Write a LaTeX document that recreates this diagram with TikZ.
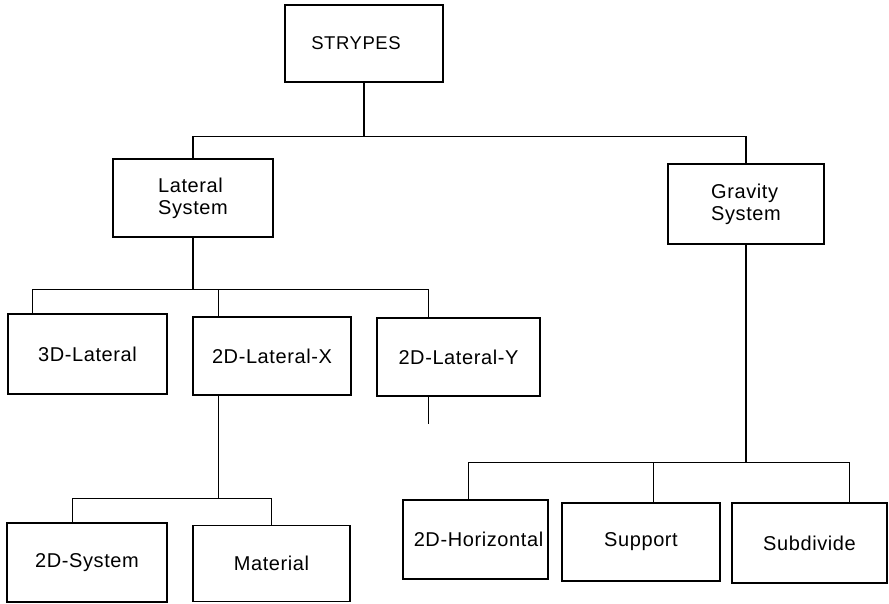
\documentclass[tikz,border=0pt]{standalone}
\usepackage{fontspec}
\setmainfont{Liberation Sans}[LetterSpace=3]
\usetikzlibrary{calc}
\begin{document}
\begin{tikzpicture}[x=1pt,y=-1pt,
  box/.style={draw, line width=1.2pt, rectangle, inner sep=0pt,
    font=\fontsize{20}{22}\selectfont, align=left},
  link/.style={line width=1.2pt}]
\useasboundingbox (0,0) rectangle (889,603);

\node[box, minimum width=158pt, minimum height=77pt, font=\fontsize{18.5}{22}\selectfont] (strypes) at (364,43.5) {\hspace*{-16pt}STRYPES};
\node[box, minimum width=160pt, minimum height=78pt] (lat) at (193,198) {Lateral\\System};
\node[box, minimum width=156pt, minimum height=80pt] (grav) at (746,204) {Gravity\\System};

\node[box, minimum width=159pt, minimum height=80pt] (l3d) at (87.5,354) {3D-Lateral};
\node[box, minimum width=158pt, minimum height=78pt] (l2x) at (272,356) {2D-Lateral-X};
\node[box, minimum width=163pt, minimum height=78pt] (l2y) at (458.5,357) {2D-Lateral-Y};

\node[box, minimum width=160pt, minimum height=79pt] (sys) at (87,562.5) {2D-System};
\node[box, minimum width=157pt, minimum height=76pt] (mat) at (271.5,563.5) {Material};

\node[box, minimum width=145pt, minimum height=79pt] (hor) at (475.5,539.5) {\hspace*{6pt}2D-Horizontal};
\node[box, minimum width=158pt, minimum height=78pt] (sup) at (641,542) {Support};
\node[box, minimum width=155pt, minimum height=80pt] (sub) at (809.5,543) {Subdivide};

% top level
\coordinate (j1) at ($(strypes.south)+(0,54)$);
\draw[link] (strypes.south) -- (j1);
\draw[link] (lat.north) |- (j1) -| (grav.north);

% lateral children
\coordinate (j2) at ($(lat.south)+(0,52)$);
\draw[link] (lat.south) -- (j2);
\draw[link] ([xshift=25pt]l3d.north west) |- (j2) -| ([xshift=52pt]l2y.north west);
\draw[link] ([xshift=26pt]l2x.north west) -- ([xshift=26pt]l2x.north west |- j2);

% 2D-Lateral-Y stub
\coordinate (e1) at ($(l2y.south west)+(52,27)$);
\draw[link] ([xshift=52pt]l2y.south west) -- (e1);

% 2D-Lateral-X children
\coordinate (j3) at ($(l2x.south west)+(26,103)$);
\draw[link] ([xshift=26pt]l2x.south west) -- (j3);
\draw[link] ([xshift=66pt]sys.north west) |- (j3) -| (mat.north);

% gravity children
\coordinate (j4) at ($(grav.south)+(0,218)$);
\draw[link] (grav.south) -- (j4);
\draw[link] ([xshift=66pt]hor.north west) |- (j4) -| ([xshift=118pt]sub.north west);
\draw[link] ([xshift=92pt]sup.north west) -- ([xshift=92pt]sup.north west |- j4);
\end{tikzpicture}
\end{document}
